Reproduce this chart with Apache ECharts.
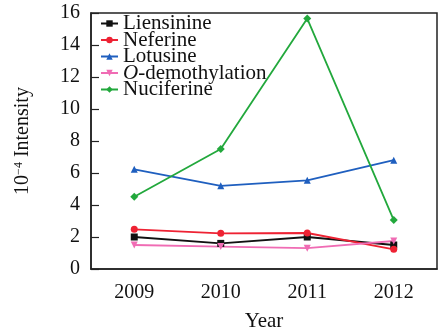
<!DOCTYPE html>
<html>
<head>
<meta charset="utf-8">
<script src="https://cdn.jsdelivr.net/npm/echarts@6/dist/echarts.min.js"></script>
<style>
  html, body { margin: 0; padding: 0; background: #fff; }
  #chart { width: 440px; height: 328px; }
</style>
</head>
<body>
<div id="chart"></div>
<script>
// Alkaloid intensities by year (units of 10^-4)
const years = ['2009', '2010', '2011', '2012'];
const liensinine = [2.0, 1.6, 2.0, 1.5];
const neferine = [2.48, 2.23, 2.25, 1.23];
const lotusine = [6.23, 5.2, 5.54, 6.8];
const oDemethylation = [1.5, 1.4, 1.3, 1.75];
const nuciferine = [4.52, 7.5, 15.65, 3.06];
const yTicks = { min: 0, max: 16, interval: 2 };

const serif = "'Liberation Serif', 'Times New Roman', serif";

function lineSeries(name, data, color, symbol, extra) {
  return Object.assign({
    name: name,
    type: 'line',
    data: data,
    symbol: symbol,
    symbolSize: 7,
    itemStyle: { color: color },
    lineStyle: { color: color, width: 1.8 },
    emphasis: { disabled: true },
    animation: false
  }, extra || {});
}

const chart = echarts.init(document.getElementById('chart'), null, { renderer: 'canvas' });
chart.setOption({
  backgroundColor: '#fff',
  animation: false,
  grid: {
    left: 91, right: 3, top: 13, bottom: 59,
    outerBoundsMode: 'none',
    containLabel: false,
    show: true, borderColor: '#222', borderWidth: 1.5, backgroundColor: 'transparent'
  },
  legend: {
    orient: 'vertical',
    left: 95, top: 8,
    itemWidth: 17, itemHeight: 8, itemGap: -4.5,
    textStyle: {
      fontFamily: serif, fontSize: 21, color: '#111',
      rich: { i: { fontFamily: serif, fontSize: 21, fontStyle: 'italic', color: '#111' } }
    },
    formatter: function (n) {
      return n === 'O-demothylation' ? '{i|O}-demothylation' : n;
    },
    data: ['Liensinine', 'Neferine', 'Lotusine', 'O-demothylation', 'Nuciferine']
  },
  xAxis: {
    type: 'category',
    data: years,
    boundaryGap: true,
    name: 'Year',
    nameLocation: 'middle',
    nameGap: 42,
    nameTextStyle: { fontFamily: serif, fontSize: 21, color: '#111' },
    axisLine: { lineStyle: { color: '#222', width: 1.5 } },
    axisTick: { alignWithLabel: true, inside: true, length: 8, lineStyle: { color: '#222', width: 1.2 } },
    axisLabel: { fontFamily: serif, fontSize: 20, color: '#111', margin: 14 },
    splitLine: { show: false }
  },
  yAxis: {
    type: 'value',
    min: yTicks.min, max: yTicks.max, interval: yTicks.interval,
    name: '10{sup|−4} Intensity',
    nameLocation: 'middle',
    nameGap: 58,
    nameRotate: 90,
    nameTextStyle: {
      fontFamily: serif, fontSize: 20, color: '#111',
      rich: { sup: { fontFamily: serif, fontSize: 12, color: '#111', verticalAlign: 'top', padding: [0, 0, 8, 0] } }
    },
    axisLine: { show: true, lineStyle: { color: '#222', width: 1.5 } },
    axisTick: { show: true, inside: true, length: 8, lineStyle: { color: '#222', width: 1.2 } },
    axisLabel: { fontFamily: serif, fontSize: 20, color: '#111', margin: 11 },
    splitLine: { show: false }
  },
  series: [
    lineSeries('Liensinine', liensinine, '#111111', 'rect'),
    lineSeries('Neferine', neferine, '#ee2233', 'circle'),
    lineSeries('Lotusine', lotusine, '#1f5fbf', 'triangle'),
    lineSeries('O-demothylation', oDemethylation, '#f06cb4', 'triangle', { symbolRotate: 180 }),
    lineSeries('Nuciferine', nuciferine, '#22a83c', 'diamond', { symbolSize: 8 })
  ]
});
</script>
</body>
</html>
